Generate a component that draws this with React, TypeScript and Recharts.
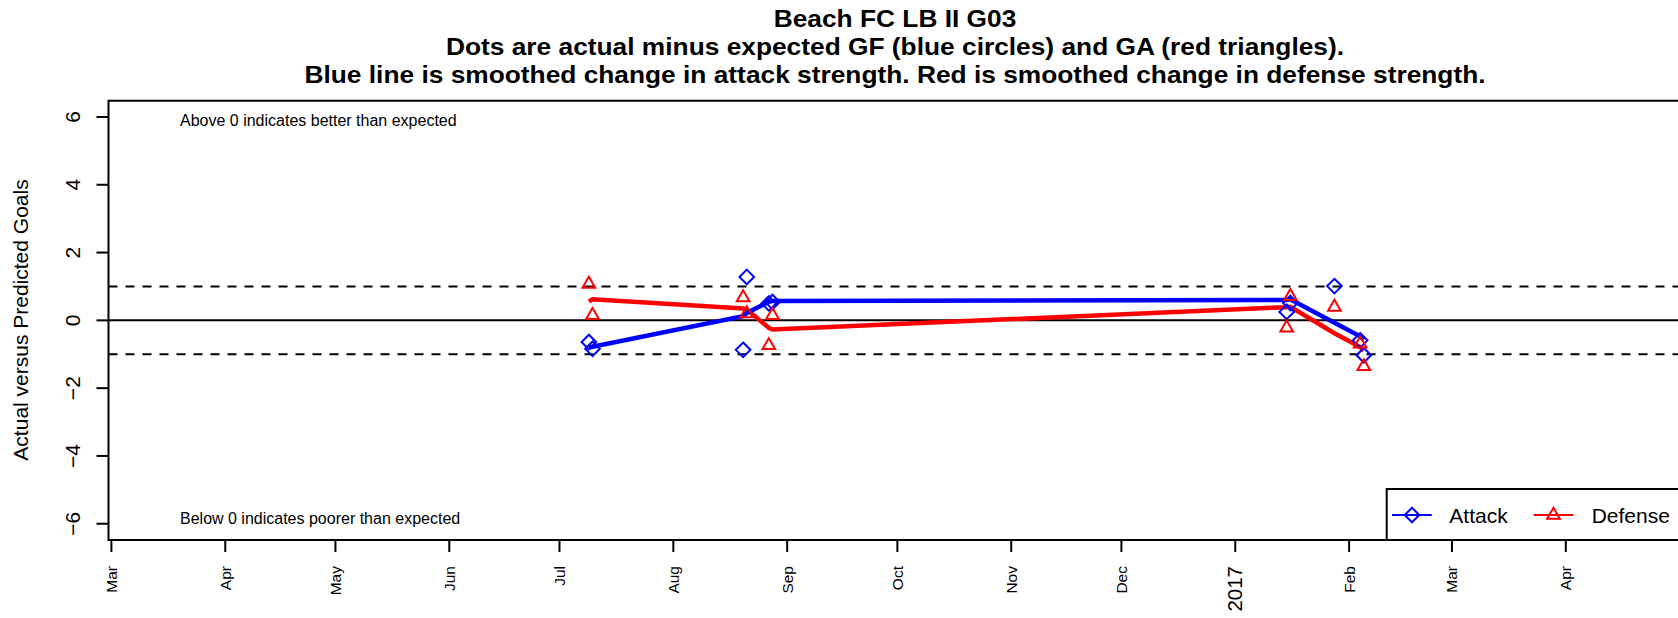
import { ComposedChart, Line, Scatter, XAxis, YAxis, ReferenceLine, ReferenceArea } from "recharts";

const FONT = "'Liberation Sans', Arial, Helvetica, sans-serif";
const DAY = 86400000;
const ORIGIN = Date.UTC(2016, 2, 1);

// match days and actual minus expected goals
const matchDates = [
  "2016-07-09", "2016-07-10", "2016-08-20", "2016-08-21", "2016-08-27", "2016-08-28",
  "2017-01-15", "2017-01-16", "2017-01-28", "2017-02-04", "2017-02-05",
];
const attackDiff = [-0.64, -0.84, -0.87, 1.28, 0.5, 0.54, 0.25, 0.51, 1.01, -0.59, -1.03];
const defenseDiff = [1.07, 0.15, 0.67, 0.2, -0.74, 0.15, -0.22, 0.71, 0.39, -0.69, -1.36];
// smoothed change in strength
const attackSmooth = [-0.8, -0.78, 0.12, 0.22, 0.55, 0.57, 0.6, 0.62, -0.07, -0.47, -0.57];
const defenseSmooth = [0.56, 0.62, 0.35, 0.32, -0.22, -0.27, 0.39, 0.4, -0.38, -0.79, -0.89];

const tickDates = [
  "2016-03-01", "2016-04-01", "2016-05-01", "2016-06-01", "2016-07-01", "2016-08-01", "2016-09-01",
  "2016-10-01", "2016-11-01", "2016-12-01", "2017-01-01", "2017-02-01", "2017-03-01", "2017-04-01",
];
const tickLabels = ["Mar", "Apr", "May", "Jun", "Jul", "Aug", "Sep", "Oct", "Nov", "Dec", "2017", "Feb", "Mar", "Apr"];
const yTicks = [-6, -4, -2, 0, 2, 4, 6];

const titleLines = [
  "Beach FC LB II G03",
  "Dots are actual minus expected GF (blue circles) and GA (red triangles).",
  "Blue line is smoothed change in attack strength. Red is smoothed change in defense strength.",
];

const X_DOMAIN = [ORIGIN - 0.79 * DAY, ORIGIN + 427.5 * DAY];
const Y_DOMAIN = [-6.48, 6.48];
const xTicks = tickDates.map((d) => Date.parse(d));

const rows = (vals: number[]) => matchDates.map((d, i) => ({ t: Date.parse(d), v: vals[i] }));

const Diamond = ({ cx, cy, color }: any) => (
  <polygon
    points={`${cx},${cy - 7.3} ${cx + 7.3},${cy} ${cx},${cy + 7.3} ${cx - 7.3},${cy}`}
    fill="none"
    stroke={color}
    strokeWidth={2}
  />
);

const Triangle = ({ cx, cy, color }: any) => (
  <polygon
    points={`${cx},${cy - 7.3} ${cx + 6.35},${cy + 3.65} ${cx - 6.35},${cy + 3.65}`}
    fill="none"
    stroke={color}
    strokeWidth={2}
  />
);

const XTick = ({ x, y, payload }: any) => {
  const i = xTicks.indexOf(payload.value);
  const label = tickLabels[i] ?? "";
  const big = label === "2017";
  const bx = x + (big ? 7.2 : 5.5);
  return (
    <text
      x={bx}
      y={y}
      transform={`rotate(-90, ${bx}, ${y})`}
      textAnchor="end"
      fontFamily={FONT}
      fontSize={big ? 20.5 : 15.5}
      fill="#000"
    >
      {label}
    </text>
  );
};

const YTick = ({ x, y, payload }: any) => (
  <text
    x={x}
    y={y}
    transform={`rotate(-90, ${x}, ${y})`}
    textAnchor="middle"
    fontFamily={FONT}
    fontSize={21}
    fill="#000"
  >
    {String(payload.value).replace("-", "\u2212")}
  </text>
);

export default function App() {
  return (
    <div style={{ position: "absolute", left: 0, top: 0, width: 1678, height: 618, overflow: "hidden", background: "#fff" }}>
      <ComposedChart width={1700} height={618} margin={{ top: 100.7, right: 18.5, bottom: 0, left: 8.5 }}>
        <XAxis
          dataKey="t"
          type="number"
          domain={X_DOMAIN}
          allowDataOverflow
          ticks={xTicks}
          interval={0}
          height={78}
          axisLine={false}
          tickSize={12}
          tickMargin={14}
          tickLine={{ stroke: "#000", strokeWidth: 2 }}
          tick={<XTick />}
        />
        <YAxis
          type="number"
          domain={Y_DOMAIN}
          allowDataOverflow
          ticks={yTicks}
          interval={0}
          width={100}
          axisLine={false}
          tickSize={12}
          tickMargin={16.5}
          tickLine={{ stroke: "#000", strokeWidth: 2 }}
          tick={<YTick />}
        />
        <ReferenceLine y={1} stroke="#000" strokeWidth={2} strokeDasharray="9 8" />
        <ReferenceLine y={-1} stroke="#000" strokeWidth={2} strokeDasharray="9 8" />
        <ReferenceLine y={0} stroke="#000" strokeWidth={2} />
        <Scatter
          data={rows(attackDiff)}
          dataKey="v"
          isAnimationActive={false}
          shape={(p: any) => <Diamond cx={p.cx} cy={p.cy} color="#0000ff" />}
        />
        <Scatter
          data={rows(defenseDiff)}
          dataKey="v"
          isAnimationActive={false}
          shape={(p: any) => <Triangle cx={p.cx} cy={p.cy} color="#ff0000" />}
        />
        <Line
          data={rows(defenseSmooth)}
          dataKey="v"
          type="linear"
          stroke="#ff0000"
          strokeWidth={4.5}
          dot={false}
          activeDot={false}
          isAnimationActive={false}
        />
        <Line
          data={rows(attackSmooth)}
          dataKey="v"
          type="linear"
          stroke="#0000ff"
          strokeWidth={4.5}
          dot={false}
          activeDot={false}
          isAnimationActive={false}
        />
        <ReferenceArea
          x1={X_DOMAIN[0]}
          x2={X_DOMAIN[1]}
          y1={Y_DOMAIN[0]}
          y2={Y_DOMAIN[1]}
          fill="none"
          fillOpacity={0}
          stroke="#000"
          strokeWidth={2}
        />
      </ComposedChart>

      <svg
        width={1678}
        height={618}
        style={{ position: "absolute", left: 0, top: 0, pointerEvents: "none" }}
      >
        {/* title is a little wider than Liberation Sans Bold, so stretch it */}
        <g transform="translate(895, 0) scale(1.12, 1)">
          {titleLines.map((t, i) => (
            <text
              key={i}
              x={0}
              y={27.5 + i * 28}
              textAnchor="middle"
              fontFamily={FONT}
              fontWeight="bold"
              fontSize={23.5}
              fill="#000"
            >
              {t}
            </text>
          ))}
        </g>
        <text
          x={28.3}
          y={320}
          transform="rotate(-90, 28.3, 320)"
          textAnchor="middle"
          fontFamily={FONT}
          fontSize={21}
          fill="#000"
        >
          Actual versus Predicted Goals
        </text>
        <text x={180} y={126} fontFamily={FONT} fontSize={16} fill="#000">
          Above 0 indicates better than expected
        </text>
        <text x={180} y={524} fontFamily={FONT} fontSize={16} fill="#000">
          Below 0 indicates poorer than expected
        </text>

        {/* legend */}
        <rect x={1386.7} y={489} width={320} height={51} fill="#fff" stroke="#000" strokeWidth={2} />
        <line x1={1392} y1={515} x2={1431.7} y2={515} stroke="#0000ff" strokeWidth={2} />
        <Diamond cx={1412} cy={515} color="#0000ff" />
        <text x={1449.3} y={522.5} fontFamily={FONT} fontSize={21} fill="#000">
          Attack
        </text>
        <line x1={1533.7} y1={515} x2={1573.3} y2={515} stroke="#ff0000" strokeWidth={2} />
        <Triangle cx={1553.5} cy={515} color="#ff0000" />
        <text x={1591.7} y={522.5} fontFamily={FONT} fontSize={21} fill="#000">
          Defense
        </text>
      </svg>
    </div>
  );
}
